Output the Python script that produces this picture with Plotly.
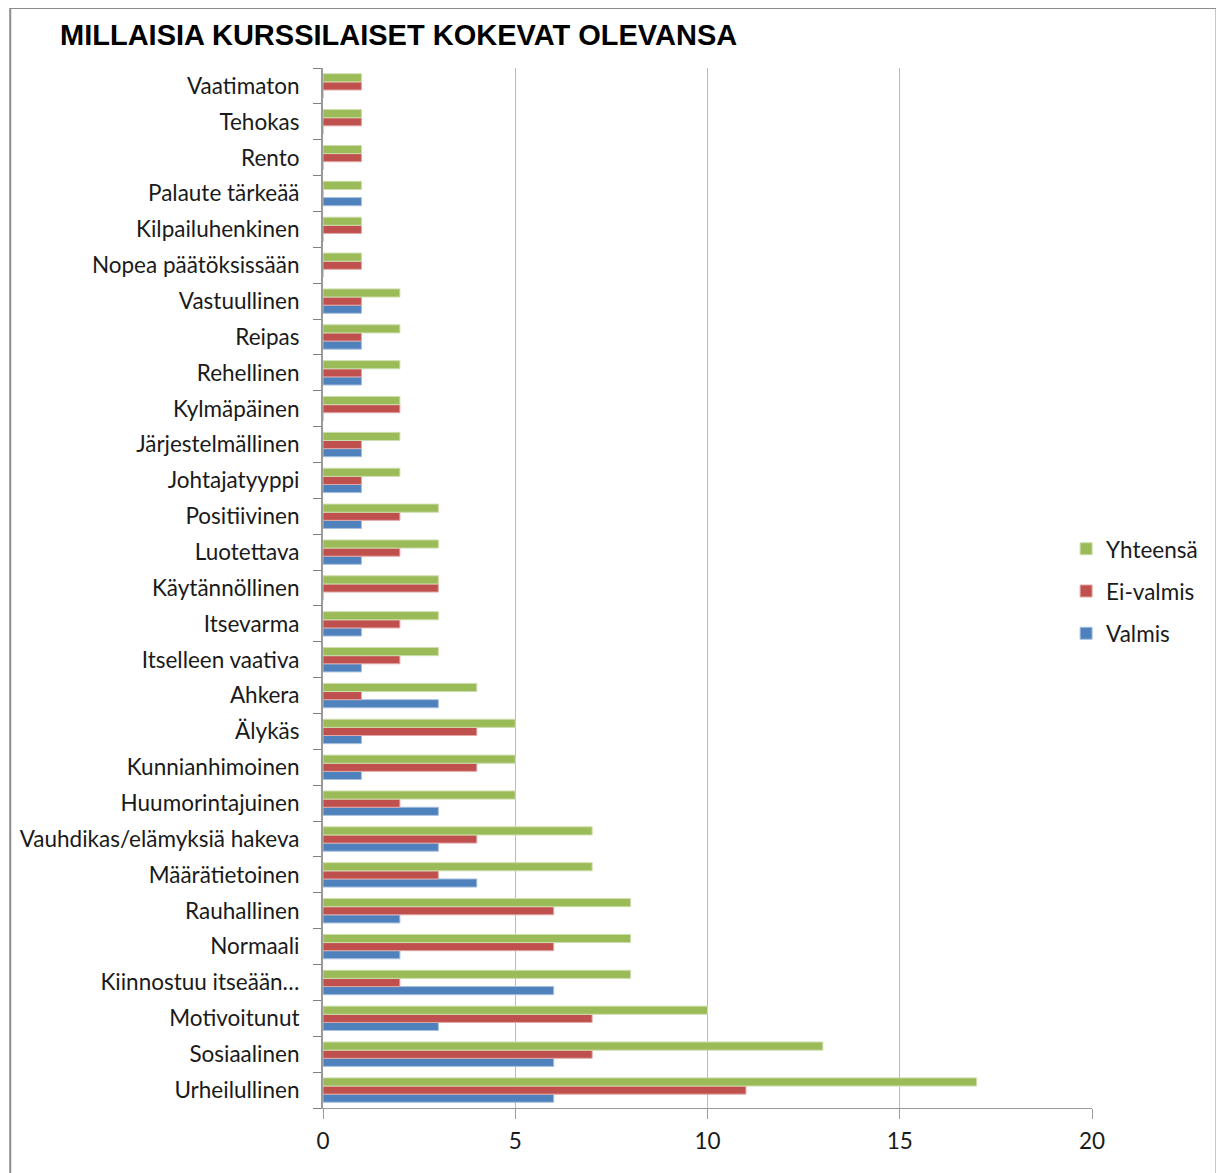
import plotly.graph_objects as go

# categories from bottom to top
traits = [
    'Urheilullinen', 'Sosiaalinen', 'Motivoitunut', 'Kiinnostuu itseään…',
    'Normaali', 'Rauhallinen', 'Määrätietoinen', 'Vauhdikas/elämyksiä hakeva',
    'Huumorintajuinen', 'Kunnianhimoinen', 'Älykäs', 'Ahkera',
    'Itselleen vaativa', 'Itsevarma', 'Käytännöllinen', 'Luotettava',
    'Positiivinen', 'Johtajatyyppi', 'Järjestelmällinen', 'Kylmäpäinen',
    'Rehellinen', 'Reipas', 'Vastuullinen', 'Nopea päätöksissään',
    'Kilpailuhenkinen', 'Palaute tärkeää', 'Rento', 'Tehokas', 'Vaatimaton',
]
valmis = [6, 6, 3, 6, 2, 2, 4, 3, 3, 1, 1, 3, 1, 1, 0, 1, 1, 1, 1, 0, 1, 1, 1, 0, 0, 1, 0, 0, 0]
ei_valmis = [11, 7, 7, 2, 6, 6, 3, 4, 2, 4, 4, 1, 2, 2, 3, 2, 2, 1, 1, 2, 1, 1, 1, 1, 1, 0, 1, 1, 1]
yhteensa = [17, 13, 10, 8, 8, 8, 7, 7, 5, 5, 5, 4, 3, 3, 3, 3, 3, 2, 2, 2, 2, 2, 2, 1, 1, 1, 1, 1, 1]

series = [
    ('Valmis', valmis, '#4F81BD', '#A7C0DE', 3),
    ('Ei-valmis', ei_valmis, '#C0504D', '#E0A8A6', 2),
    ('Yhteensä', yhteensa, '#9BBB59', '#CDDDAC', 1),
]

fig = go.Figure()
for name, vals, col, edge, rank in series:
    fig.add_trace(go.Bar(
        y=traits, x=vals, name=name, orientation='h',
        marker=dict(color=col, line=dict(color=edge, width=1)),
        legendgroup=name, legendrank=rank,
    ))

font_main = 'Lato, Open Sans, sans-serif'

# page has an 8px body margin, so figure is a bit smaller
fig.update_layout(
    width=1216, height=1165,
    margin=dict(l=312, r=132, t=60, b=65),
    paper_bgcolor='white', plot_bgcolor='white',
    barmode='group', bargap=0.32, bargroupgap=0,
    font=dict(family=font_main, size=22.5, color='#1a1a1a'),
    title=dict(
        text='<b>MILLAISIA KURSSILAISET KOKEVAT OLEVANSA</b>',
        font=dict(family='Liberation Sans, Arial, sans-serif', size=29, color='black'),
        x=52 / 1216, xanchor='left', xref='container',
        y=1 - 27 / 1165, yanchor='middle', yref='container',
    ),
    legend=dict(
        x=(1066 - 320) / 772, xanchor='left', y=0.497, yanchor='middle',
        traceorder='grouped', tracegroupgap=10,
        font=dict(family=font_main, size=22.5),
        itemwidth=30,
    ),
    shapes=[dict(
        type='rect', xref='paper', yref='paper',
        x0=(6 - 320) / 772, x1=(1217 - 320) / 772,
        y0=-0.1, y1=1 + (68 - 8) / 1040,
        line=dict(color='#8c8c8c', width=2), fillcolor='rgba(0,0,0,0)', layer='below',
    )],
)

fig.update_xaxes(
    range=[0, 20], dtick=5, showgrid=True, gridcolor='#BBBBBB', gridwidth=1,
    showline=True, linecolor='#9a9a9a', linewidth=1,
    ticks='outside', ticklen=10, tickcolor='#9a9a9a',
    zeroline=False, tickfont=dict(size=22.5), ticklabelstandoff=3,
)
fig.update_yaxes(
    type='category', categoryorder='array', categoryarray=traits,
    showline=True, linecolor='#9a9a9a', linewidth=2,
    ticks='outside', ticklen=8, tickcolor='#7f7f7f', tickson='boundaries',
    showgrid=False, tickfont=dict(size=22.5), ticklabelstandoff=17,
)

fig.write_html('out.html')
